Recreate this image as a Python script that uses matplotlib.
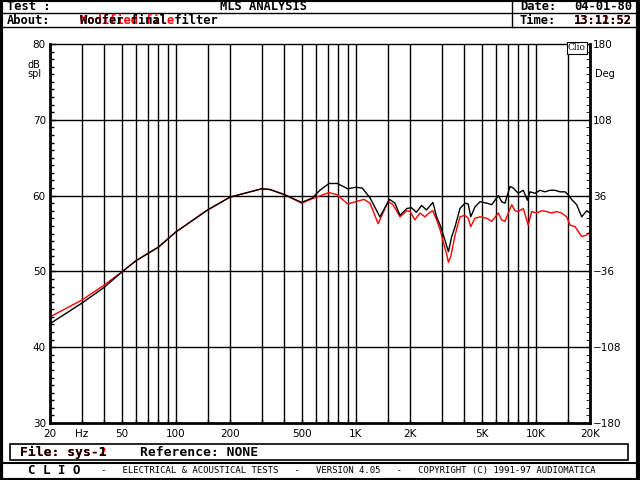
import numpy as np
import matplotlib
matplotlib.use("Agg")
import matplotlib.pyplot as plt
from matplotlib.lines import Line2D
from matplotlib.patches import Rectangle
from matplotlib.ticker import FixedLocator, MultipleLocator, NullFormatter

# black curve (sys-1, final filter)
f_black = [20, 30, 40, 50, 60, 80, 100, 150, 200, 300, 334, 404, 500, 575, 631,
           710, 790, 900, 1000, 1085, 1200, 1360, 1540, 1650, 1760, 1920, 2040,
           2170, 2320, 2470, 2680, 2810, 2940, 3130, 3270, 3410, 3560, 3790, 4040,
           4210, 4350, 4590, 4900, 5340, 5690, 6190, 6460, 6740, 7190, 7500, 7980,
           8520, 8970, 9280, 9900, 10550, 11250, 11990, 12780, 13630, 14530, 15150,
           15800, 16860, 17990, 19180, 20000]
db_black = [43.1, 45.8, 47.9, 49.9, 51.4, 53.2, 55.2, 58.1, 59.8, 60.9, 60.8, 60.1,
            59.1, 59.7, 60.7, 61.6, 61.6, 60.9, 61.1, 61.0, 59.7, 57.2, 59.5, 59.0,
            57.4, 58.3, 58.4, 57.8, 58.7, 58.1, 59.1, 57.2, 56.1, 54.1, 52.6, 54.6,
            55.9, 58.3, 59.0, 58.9, 57.2, 58.5, 59.2, 59.0, 58.8, 60.0, 59.2, 59.0,
            61.2, 61.0, 60.3, 60.7, 59.4, 60.5, 60.3, 60.7, 60.5, 60.7, 60.7, 60.5,
            60.5, 60.1, 59.5, 58.8, 57.2, 58.0, 57.7]

# red curve (sys-2, modified file)
f_red = [20, 30, 40, 50, 60, 80, 100, 150, 200, 300, 334, 404, 500, 575, 710, 790,
         900, 1000, 1110, 1200, 1330, 1510, 1610, 1760, 1920, 2000, 2130, 2270, 2420,
         2580, 2680, 2810, 2940, 3060, 3200, 3270, 3370, 3560, 3790, 4040, 4210, 4350,
         4590, 4900, 5340, 5690, 6190, 6460, 6740, 7350, 7660, 7980, 8520, 9080, 9480,
         10100, 10780, 11500, 12250, 13050, 13900, 14840, 15490, 16510, 17990, 19180,
         20000]
db_red = [44.0, 46.2, 48.2, 49.9, 51.4, 53.2, 55.2, 58.1, 59.8, 60.9, 60.8, 60.1,
          59.0, 59.6, 60.4, 60.1, 58.9, 59.2, 59.5, 59.0, 56.3, 59.2, 58.8, 57.2,
          58.0, 57.9, 56.8, 57.7, 57.2, 57.8, 58.0, 56.8, 55.5, 53.9, 52.2, 51.2,
          52.0, 54.8, 57.2, 57.4, 57.0, 55.9, 57.0, 57.2, 57.0, 56.6, 57.7, 56.8,
          56.6, 58.8, 58.0, 57.9, 58.3, 56.1, 57.9, 57.7, 58.0, 57.9, 57.7, 57.9,
          57.7, 57.2, 56.1, 55.9, 54.6, 54.8, 55.2]

grid_freqs = [30, 40, 50, 60, 70, 80, 90, 100, 150, 200, 300, 400, 500, 600, 700,
              800, 900, 1000, 1500, 2000, 3000, 4000, 5000, 6000, 7000, 8000, 9000,
              10000, 15000]
x_ticks = [20, 30, 50, 100, 200, 500, 1000, 2000, 5000, 10000, 20000]
x_labels = ["20", "Hz", "50", "100", "200", "500", "1K", "2K", "5K", "10K", "20K"]
db_ticks = [30, 40, 50, 60, 70, 80]
deg_ticks = [-180, -108, -36, 36, 108, 180]

W, H = 640, 480
fig = plt.figure(figsize=(6.4, 4.8), dpi=100)
mono = "DejaVu Sans Mono"


def fx(x):
    return x / W


def fy(y):
    return 1 - y / H


def hline(y, x0, x1, lw=1.0):
    fig.add_artist(Line2D([fx(x0), fx(x1)], [fy(y), fy(y)], color="k", lw=lw,
                          transform=fig.transFigure))


def vline(x, y0, y1, lw=1.0):
    fig.add_artist(Line2D([fx(x), fx(x)], [fy(y0), fy(y1)], color="k", lw=lw,
                          transform=fig.transFigure))


def txt(x, y, s, **kw):
    kw.setdefault("family", mono)
    kw.setdefault("fontsize", 8.7)
    kw.setdefault("va", "center")
    fig.text(fx(x), fy(y), s, **kw)


# outer frame
vline(1, 0, 480, lw=3)
vline(638, 0, 480, lw=3)
hline(0.5, 0, 640, lw=1.5)
hline(479, 0, 640, lw=1.5)

# header
hline(13, 0, 640)
hline(27, 0, 640)
vline(512, 0, 27)
txt(7, 7, "Test :", weight="bold")
txt(263, 7, "MLS ANALYSIS", ha="center", weight="bold")
txt(520, 7, "Date:", weight="bold")
txt(632, 7, "04-01-80", ha="right", weight="bold")
txt(7, 20, "About:", weight="bold")
txt(80, 20, "Modified file", weight="bold", color="red")
txt(80, 20, "Woofer final filter", weight="bold")
txt(520, 20, "Time:", weight="bold")
txt(632, 20, "13:12:52", ha="right", weight="bold", color="red")
txt(632, 20, "13:11:52", ha="right", weight="bold")

# plot area
ax = fig.add_axes([fx(50), fy(423), 540 / W, 379 / H])
ax.set_xscale("log")
ax.set_xlim(20, 20000)
ax.set_ylim(30, 80)
for f in grid_freqs:
    ax.axvline(f, color="k", lw=1.0)
for d in db_ticks[1:-1]:
    ax.axhline(d, color="k", lw=1.0)

ax.plot(f_red, db_red, color="red", lw=1.0)
ax.plot(f_black, db_black, color="black", lw=1.0)

ax.xaxis.set_major_locator(FixedLocator(x_ticks))
ax.xaxis.set_minor_locator(FixedLocator(grid_freqs))
ax.xaxis.set_minor_formatter(NullFormatter())
ax.set_xticklabels(x_labels)
ax.set_yticks(db_ticks)
ax.yaxis.set_minor_locator(MultipleLocator(1))
ax.tick_params(axis="both", which="both", direction="in", color="k",
               labelsize=7.5, pad=3)
ax.tick_params(axis="y", which="major", length=4, width=1)
ax.tick_params(axis="y", which="minor", length=3, width=1)
ax.tick_params(axis="x", which="both", length=3, width=1, pad=4)
for s in ["left", "right", "bottom"]:
    ax.spines[s].set_linewidth(2.0)
ax.spines["top"].set_linewidth(1.0)

ax2 = ax.twinx()
ax2.set_ylim(-180, 180)
ax2.set_yticks(deg_ticks)
ax2.yaxis.set_minor_locator(MultipleLocator(7.2))
ax2.tick_params(axis="y", which="both", direction="in", labelsize=7.5, pad=2)
ax2.tick_params(axis="y", which="major", length=4)
ax2.tick_params(axis="y", which="minor", length=3)
for s in ax2.spines.values():
    s.set_visible(False)

txt(34, 65, "dB", ha="center", family="DejaVu Sans", fontsize=7)
txt(34, 74, "spl", ha="center", family="DejaVu Sans", fontsize=7)
txt(605, 74, "Deg", ha="center", family="DejaVu Sans", fontsize=7)
fig.text(fx(577), fy(48), "Clio", ha="center", va="center", fontsize=6.5,
         family="DejaVu Serif",
         bbox=dict(boxstyle="square,pad=0.15", fc="white", ec="k", lw=0.8))

# file box
fig.add_artist(Rectangle((fx(10), fy(460)), 618 / W, 16 / H, fill=False,
                         ec="k", lw=1.2, transform=fig.transFigure))
txt(20, 452, "File: sys-2", weight="bold", color="red", fontsize=9.4)
txt(20, 452, "File: sys-1", weight="bold", fontsize=9.4)
txt(140, 452, "Reference: NONE", weight="bold", fontsize=9.4)

# footer
hline(463, 0, 640, lw=1.5)
txt(28, 471, "C L I O", weight="bold", fontsize=9)
txt(101, 471, "-   ELECTRICAL & ACOUSTICAL TESTS   -   VERSION 4.05   -   "
    "COPYRIGHT (C) 1991-97 AUDIOMATICA", fontsize=6.5)

fig.savefig("out.png", dpi=100)
